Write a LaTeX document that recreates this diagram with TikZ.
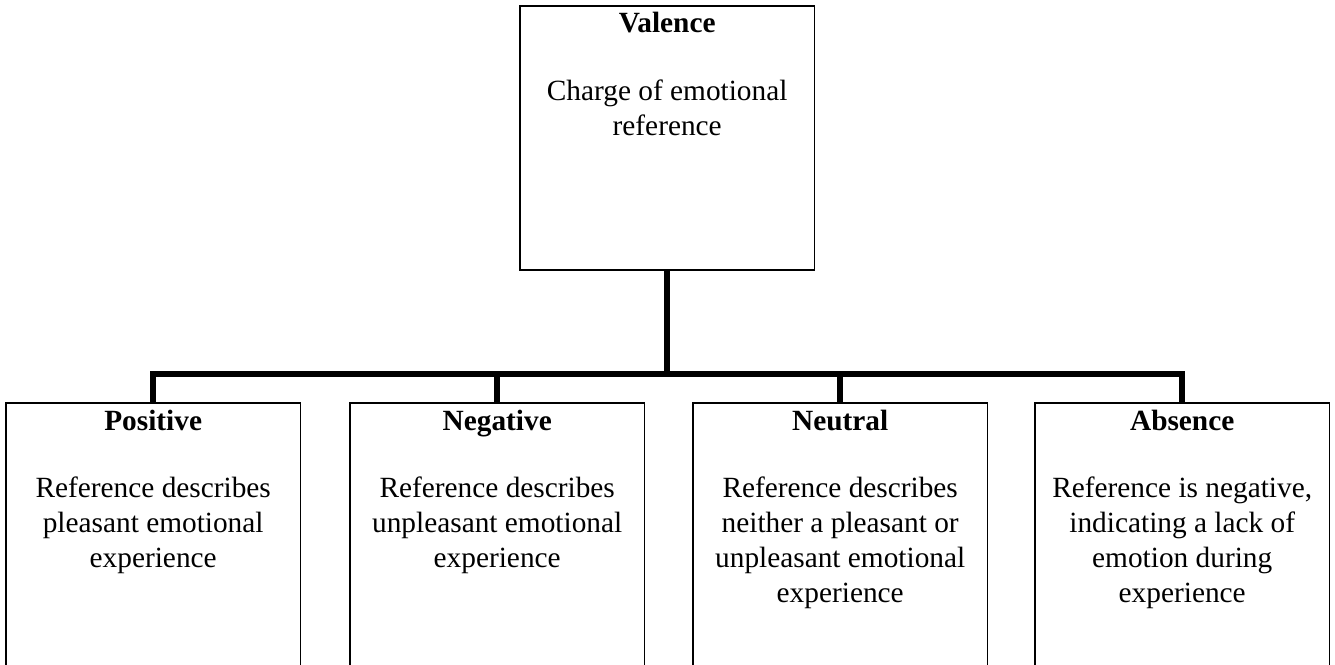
\documentclass[tikz,border=0pt]{standalone}
\usepackage{fontspec}
\setmainfont{Liberation Serif}
\begin{document}
\begin{tikzpicture}[x=0.75pt,y=-0.75pt,
  box/.style={draw, line width=1.3pt, rectangle, inner sep=0pt, anchor=north west, minimum width=221pt},
  lowbox/.style={box, minimum height=230pt},
  conn/.style={draw, line width=4.5pt, line join=miter},
  ttl/.style={anchor=base, inner sep=0pt, font=\fontsize{22}{26.25}\selectfont\bfseries},
  body/.style={anchor=base, inner sep=0pt, font=\fontsize{22}{26.25}\selectfont}
]
\useasboundingbox (0,0) rectangle (1335,664);
% boxes
\node[box, minimum height=198pt] (val) at (519,5) {};
\node[lowbox] (pos) at (5,402) {};
\node[lowbox] (neg) at (349,402) {};
\node[lowbox] (neu) at (692,402) {};
\node[lowbox] (abs) at (1034,402) {};
% connectors
\coordinate (bus) at (0,374);
\draw[conn] (val.south) -- (val.south |- bus);
\draw[conn] (pos.north) -- (pos.north |- bus) -- (abs.north |- bus) -- (abs.north);
\draw[conn] (neg.north) -- (neg.north |- bus);
\draw[conn] (neu.north) -- (neu.north |- bus);
% texts
\node[ttl] (valT) at (val.north |- 0,32) {Valence};
\node[body] (valB) at (val.north |- 0,100) {\begin{tabular}[t]{@{}c@{}}Charge of emotional\\ reference\end{tabular}};
\node[ttl] (posT) at (pos.north |- 0,430) {Positive};
\node[body] (posB) at (pos.north |- 0,497) {\begin{tabular}[t]{@{}c@{}}Reference describes\\ pleasant emotional\\ experience\end{tabular}};
\node[ttl] (negT) at (neg.north |- 0,430) {Negative};
\node[body] (negB) at (neg.north |- 0,497) {\begin{tabular}[t]{@{}c@{}}Reference describes\\ unpleasant emotional\\ experience\end{tabular}};
\node[ttl] (neuT) at (neu.north |- 0,430) {Neutral};
\node[body] (neuB) at (neu.north |- 0,497) {\begin{tabular}[t]{@{}c@{}}Reference describes\\ neither a pleasant or\\ unpleasant emotional\\ experience\end{tabular}};
\node[ttl] (absT) at (abs.north |- 0,430) {Absence};
\node[body] (absB) at (abs.north |- 0,497) {\begin{tabular}[t]{@{}c@{}}Reference is negative,\\ indicating a lack of\\ emotion during\\ experience\end{tabular}};
\end{tikzpicture}
\end{document}
